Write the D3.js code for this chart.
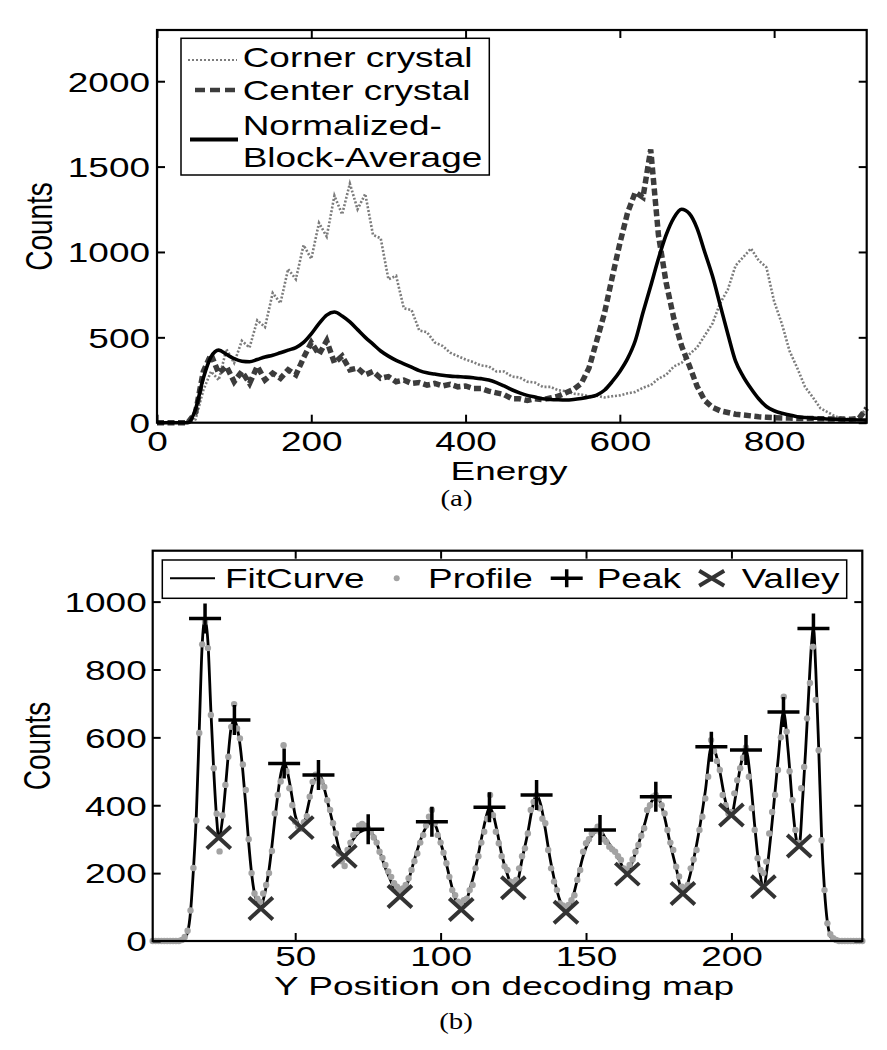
<!DOCTYPE html>
<html><head><meta charset="utf-8">
<script src="https://cdn.jsdelivr.net/npm/d3@7"></script>
<style>
html,body{margin:0;padding:0;background:#fff;}
svg{display:block;}
text{font-family:"Liberation Sans",Arial,Helvetica,sans-serif;fill:#000;}
.cap{font-family:"Liberation Serif","Times New Roman",serif;}
</style></head><body>
<svg id="c" width="887" height="1050"></svg>
<script>
// ---------- (a) energy spectra ----------
const energy = [0,10,20,30,40,50,60,70,80,90,
  100,110,120,130,140,150,160,170,180,190,
  200,210,220,230,240,250,260,270,280,290,
  300,310,320,330,340,350,360,370,380,390,
  400,410,420,430,440,450,460,470,480,490,
  500,510,520,530,540,550,560,570,580,590,
  600,610,620,630,640,650,660,670,680,690,
  700,710,720,730,740,750,760,770,780,790,
  800,810,820,830,840,850,860,870,880,890,
  900,910,920];
const cornerCrystal = [0,0,0,0,0,20,190,300,250,430,
  350,480,440,600,560,760,700,900,840,1040,
  960,1170,1090,1330,1220,1400,1250,1340,1100,1080,
  840,860,670,660,540,530,470,450,410,390,
  370,355,335,330,300,300,270,265,240,235,
  210,210,190,185,170,165,155,158,148,155,
  160,172,180,205,220,258,280,330,350,400,
  440,510,580,700,780,920,970,1020,950,910,
  710,580,420,320,210,150,85,60,35,28,
  18,28,90];
const centerCrystal = [0,0,0,0,0,60,300,400,290,330,
  240,300,230,330,250,290,260,310,280,380,
  470,400,480,350,390,310,320,280,300,260,
  270,240,250,230,235,220,230,215,225,210,
  215,200,200,185,175,165,140,140,130,140,
  135,145,155,175,195,230,320,480,640,850,
  1050,1230,1350,1320,1600,1100,820,610,450,335,
  215,130,90,70,60,50,45,40,35,32,
  30,28,27,25,25,24,23,22,22,21,
  20,25,85];
const blockAverage = [0,0,0,0,0,80,260,385,425,400,
  375,360,357,370,385,395,410,425,440,470,
  520,580,630,648,625,590,545,500,460,420,
  390,365,345,325,305,292,285,278,273,270,
  267,263,258,250,235,215,193,175,160,150,
  140,136,134,133,136,142,150,162,190,240,
  300,375,480,645,800,960,1100,1200,1250,1225,
  1140,1000,860,690,520,360,270,200,140,95,
  70,55,45,35,30,27,25,22,20,18,
  17,16,15];
const energyTicks = [0,200,400,600,800];
const countTicksA = [0,500,1000,1500,2000];
const legendA = ["Corner crystal","Center crystal","Normalized-","Block-Average"];

// ---------- (b) decoding-map profile ----------
const yPosition = [1,2,3,4,5,6,7,8,9,10,11,12,13,14,15,16,17,18,19,20,
  21,22,23,24,25,26,27,28,29,30,31,32,33,34,35,36,37,38,39,40,
  41,42,43,44,45,46,47,48,49,50,51,52,53,54,55,56,57,58,59,60,
  61,62,63,64,65,66,67,68,69,70,71,72,73,74,75,76,77,78,79,80,
  81,82,83,84,85,86,87,88,89,90,91,92,93,94,95,96,97,98,99,100,
  101,102,103,104,105,106,107,108,109,110,111,112,113,114,115,116,117,118,119,120,
  121,122,123,124,125,126,127,128,129,130,131,132,133,134,135,136,137,138,139,140,
  141,142,143,144,145,146,147,148,149,150,151,152,153,154,155,156,157,158,159,160,
  161,162,163,164,165,166,167,168,169,170,171,172,173,174,175,176,177,178,179,180,
  181,182,183,184,185,186,187,188,189,190,191,192,193,194,195,196,197,198,199,200,
  201,202,203,204,205,206,207,208,209,210,211,212,213,214,215,216,217,218,219,220,
  221,222,223,224,225,226,227,228,229,230,231,232,233,234,235,236,237,238,239,240,
  241,242,243,244,245];
const profile = [0,0,0,0,0,0,0,0,0,0,
  3,12,30,90,215,355,613,874,940,863,
  666,509,375,264,370,460,543,631,698,626,
  597,520,445,300,200,140,125,115,140,165,
  200,265,376,430,470,577,500,450,400,351,
  338,331,350,368,425,469,490,480,470,454,
  415,386,347,317,258,235,221,268,290,312,
  322,340,345,340,332,320,305,290,263,245,
  224,205,189,170,160,150,155,165,185,209,
  235,258,290,312,340,366,386,347,312,290,
  260,229,189,150,135,116,110,120,125,150,
  165,214,250,290,322,360,430,371,322,288,
  250,220,209,175,170,180,214,250,273,317,
  386,410,430,391,360,347,268,214,175,150,
  111,105,100,106,120,135,180,209,263,288,
  300,317,325,337,320,300,292,278,270,263,
  250,239,214,210,224,240,263,283,310,332,
  386,400,425,430,420,400,376,327,290,268,
  219,190,160,150,165,214,240,268,327,366,
  420,484,592,560,530,504,430,400,376,380,
  435,474,509,540,570,484,391,327,244,209,
  200,234,317,380,430,504,600,720,617,500,
  415,327,290,450,513,656,760,867,710,562,
  297,150,52,20,8,3,0,0,0,0,
  0,0,0,0,0];
const fitX = [1,11,12,13,14,15,16,17,18,19,20,21,22,23,23.7,25,26,27,28,29.1,30,31,32,33,34,35,36,37,38.2,39,40,41,42,43,44,45,46.2,47,48,49,50,51,52.1,53,54,55,56,57,58,59,60,61,62,63,64,65,66,66.9,68,69,70,72,75.1,77,79,81,83,84.5,86,87.5,89,91,93,95,97,98.5,100,101.5,103,104.5,106,107.1,108.5,110,112,114,115.5,116.8,118,119.5,121,123,125,126.5,128,130,131.5,133,134.5,136,137.5,139,141,143.1,145,147,149,151,153,154.8,156.5,158.5,160.5,162.5,164.2,166,168,170,172,174,175.5,177,179,181,183.3,185,187,189,191,193.1,194.5,196,198,200,201.5,203,205,206.5,208,209.5,211,212.5,214,216,217.9,219.5,221,222.3,223.3,224.5,225.5,226.5,227.5,228.2,229,230,231,232,233,234,235,236,245];
const fitY = [0,0,8,25,85,210,370,620,870,950,880,680,500,360,305,360,450,550,630,651,630,580,500,400,290,200,140,110,96,120,160,210,280,360,430,490,523,510,470,420,370,345,334,345,380,420,460,480,489,480,450,415,380,345,310,275,255,250,262,285,300,320,329,310,265,215,175,145,131,145,180,240,295,335,351,335,290,245,190,140,105,93,110,150,215,300,360,394,375,320,255,195,157,175,240,320,390,430,400,330,250,185,120,85,115,180,250,295,320,327,305,280,255,220,197,235,285,340,400,425,410,365,285,215,140,170,240,330,440,572,555,500,410,371,430,510,563,480,340,220,160,230,350,530,675,560,400,300,280,420,560,720,870,921,800,570,310,150,55,15,3,0,0];
const peakX = [19,29.1,46.2,58,75.1,97,116.8,133,154.8,174,193.1,205,217.9,228.2];
const peakY = [950,651,523,489,329,351,394,430,327,425,572,563,675,921];
const valleyX = [23.7,38.2,52.1,66.9,86,107.1,125,143.1,164.2,183.3,200,211,223.3];
const valleyY = [305,96,334,250,131,93,157,85,197,140,371,160,280];
const positionTicks = [50,100,150,200];
const countTicksB = [0,200,400,600,800,1000];
const legendB = ["FitCurve","Profile","Peak","Valley"];

// ---------- drawing ----------
const SX = 1.32;          // horizontal glyph stretch of the original figure
const FS = 28;
const svg = d3.select("#c");

function label(g, x, y, s, anchor, size, cls, rot, sx) {
  return g.append("text")
    .attr("class", cls || null)
    .attr("transform", `translate(${x},${y}) scale(${sx || SX},1)` + (rot ? ` rotate(${rot})` : ""))
    .attr("text-anchor", anchor)
    .style("font-size", size + "px")
    .text(s);
}

function frame(g, x, y, xt, yt, xLabOff, yLabOff) {
  const [x0, x1] = x.range(), [y0, y1] = y.range();
  const fmt = d3.format("d");
  g.append("g").attr("transform", `translate(0,${y0})`)
    .call(d3.axisBottom(x).tickValues(xt).tickSize(-8).tickFormat(fmt))
    .call(a => {
      a.select(".domain").remove();
      a.selectAll("line").attr("stroke", "#000").attr("stroke-width", 2);
      a.selectAll("text").attr("y", 0).attr("dy", 0)
        .attr("transform", `translate(0,${xLabOff}) scale(${SX},1)`).style("font-size", FS + "px");
    });
  g.append("g").attr("transform", `translate(0,${y1})`)
    .call(d3.axisTop(x).tickValues(xt).tickSize(-8).tickFormat(""))
    .call(a => { a.select(".domain").remove(); a.selectAll("line").attr("stroke", "#000").attr("stroke-width", 2); });
  g.append("g").attr("transform", `translate(${x0},0)`)
    .call(d3.axisLeft(y).tickValues(yt).tickSize(-8).tickFormat(fmt))
    .call(a => {
      a.select(".domain").remove();
      a.selectAll("line").attr("stroke", "#000").attr("stroke-width", 2);
      a.selectAll("text").attr("x", 0).attr("dy", "0.35em")
        .attr("transform", `translate(${-yLabOff},0) scale(${SX},1)`).style("font-size", FS + "px");
    });
  g.append("g").attr("transform", `translate(${x1},0)`)
    .call(d3.axisRight(y).tickValues(yt).tickSize(-8).tickFormat(""))
    .call(a => { a.select(".domain").remove(); a.selectAll("line").attr("stroke", "#000").attr("stroke-width", 2); });
  g.append("rect").attr("x", x0).attr("y", y1).attr("width", x1 - x0).attr("height", y0 - y1)
    .attr("fill", "none").attr("stroke", "#000").attr("stroke-width", 2.2);
}

// ===== chart (a) =====
const gA = svg.append("g");
const xA = d3.scaleLinear().domain([0, 920]).range([157, 866.7]);
const yA = d3.scaleLinear().domain([0, 2300]).range([422.7, 30]);

const lineA = (vals, curve) => d3.line().x((d, i) => xA(energy[i])).y(d => yA(d)).curve(curve)(vals);

gA.append("path").attr("d", lineA(cornerCrystal, d3.curveLinear))
  .attr("fill", "none").attr("stroke", "#7c7c7c").attr("stroke-width", 2.6).attr("stroke-dasharray", "2,1.8");
gA.append("path").attr("d", lineA(centerCrystal, d3.curveLinear))
  .attr("fill", "none").attr("stroke", "#3c3c3c").attr("stroke-width", 5.5).attr("stroke-dasharray", "7,3.5");
gA.append("path").attr("d", lineA(blockAverage, d3.curveMonotoneX))
  .attr("fill", "none").attr("stroke", "#000").attr("stroke-width", 3.6);

frame(gA, xA, yA, energyTicks, countTicksA, 28.5, 7);

label(gA, 509, 480, "Energy", "middle", 26, null, null, 1.42);
label(gA, 51.7, 226.5, "Counts", "middle", FS, null, -90);
label(gA, 456.5, 506, "(a)", "middle", 24, "cap", null, 1.2);

// legend (a)
const lgA = gA.append("g");
lgA.append("rect").attr("x", 181).attr("y", 38.3).attr("width", 308.3).attr("height", 136.7)
  .attr("fill", "#fff").attr("stroke", "#000").attr("stroke-width", 1.5);
lgA.append("line").attr("x1", 188).attr("x2", 237).attr("y1", 60).attr("y2", 60)
  .attr("stroke", "#7c7c7c").attr("stroke-width", 2).attr("stroke-dasharray", "2,2");
lgA.append("line").attr("x1", 195).attr("x2", 238).attr("y1", 90).attr("y2", 90)
  .attr("stroke", "#3c3c3c").attr("stroke-width", 4.5).attr("stroke-dasharray", "10,5");
lgA.append("line").attr("x1", 190).attr("x2", 238).attr("y1", 139.5).attr("y2", 139.5)
  .attr("stroke", "#000").attr("stroke-width", 4);
[66.7, 100, 135, 166.5].forEach((yy, i) => label(lgA, 242.7, yy, legendA[i], "start", FS));

// ===== chart (b) =====
const gB = svg.append("g");
const xB = d3.scaleLinear().domain([1, 245]).range([152.7, 862.3]);
const yB = d3.scaleLinear().domain([0, 1150]).range([941, 550.7]);

gB.append("path")
  .attr("d", d3.line().x((d, i) => xB(fitX[i])).y(d => yB(d)).curve(d3.curveMonotoneX)(fitY))
  .attr("fill", "none").attr("stroke", "#000").attr("stroke-width", 2.8);
gB.append("g").selectAll("circle").data(profile).join("circle")
  .attr("cx", (d, i) => xB(yPosition[i])).attr("cy", d => yB(d)).attr("r", 3.2)
  .attr("fill", "#a3a3a3");

const plusPath = (w, h) => `M${-w / 2},0H${w / 2}M0,${-h / 2}V${h / 2}`;
const crossPath = (w, h) => `M${-w / 2},${-h / 2}L${w / 2},${h / 2}M${-w / 2},${h / 2}L${w / 2},${-h / 2}`;

gB.append("g").selectAll("path").data(peakY).join("path")
  .attr("transform", (d, i) => `translate(${xB(peakX[i])},${yB(d)})`)
  .attr("d", plusPath(32, 30)).attr("stroke", "#000").attr("stroke-width", 3.5).attr("fill", "none");
gB.append("g").selectAll("path").data(valleyY).join("path")
  .attr("transform", (d, i) => `translate(${xB(valleyX[i])},${yB(d)})`)
  .attr("d", crossPath(24, 22)).attr("stroke", "#333").attr("stroke-width", 4).attr("fill", "none");

frame(gB, xB, yB, positionTicks, countTicksB, 24.5, 6);

label(gB, 504, 995, "Y Position on decoding map", "middle", 25, null, null, 1.48);
label(gB, 50, 746, "Counts", "middle", FS, null, -90);
label(gB, 456, 1029, "(b)", "middle", 24, "cap", null, 1.2);

// legend (b)
const lgB = gB.append("g");
lgB.append("rect").attr("x", 162.3).attr("y", 560).attr("width", 684.4).attr("height", 38.3)
  .attr("fill", "#fff").attr("stroke", "#000").attr("stroke-width", 1.5);
lgB.append("line").attr("x1", 170).attr("x2", 215).attr("y1", 578.3).attr("y2", 578.3)
  .attr("stroke", "#000").attr("stroke-width", 2);
lgB.append("circle").attr("cx", 396.7).attr("cy", 578.3).attr("r", 3).attr("fill", "#a3a3a3");
lgB.append("path").attr("transform", "translate(566.7,578.3)").attr("d", plusPath(32, 18))
  .attr("stroke", "#000").attr("stroke-width", 3.5).attr("fill", "none");
lgB.append("path").attr("transform", "translate(711.7,578.3)").attr("d", crossPath(25, 15))
  .attr("stroke", "#333").attr("stroke-width", 4).attr("fill", "none");
[225, 428, 596.7, 741.7].forEach((xx, i) => label(lgB, xx, 588.3, legendB[i], "start", FS));
</script>
</body></html>
